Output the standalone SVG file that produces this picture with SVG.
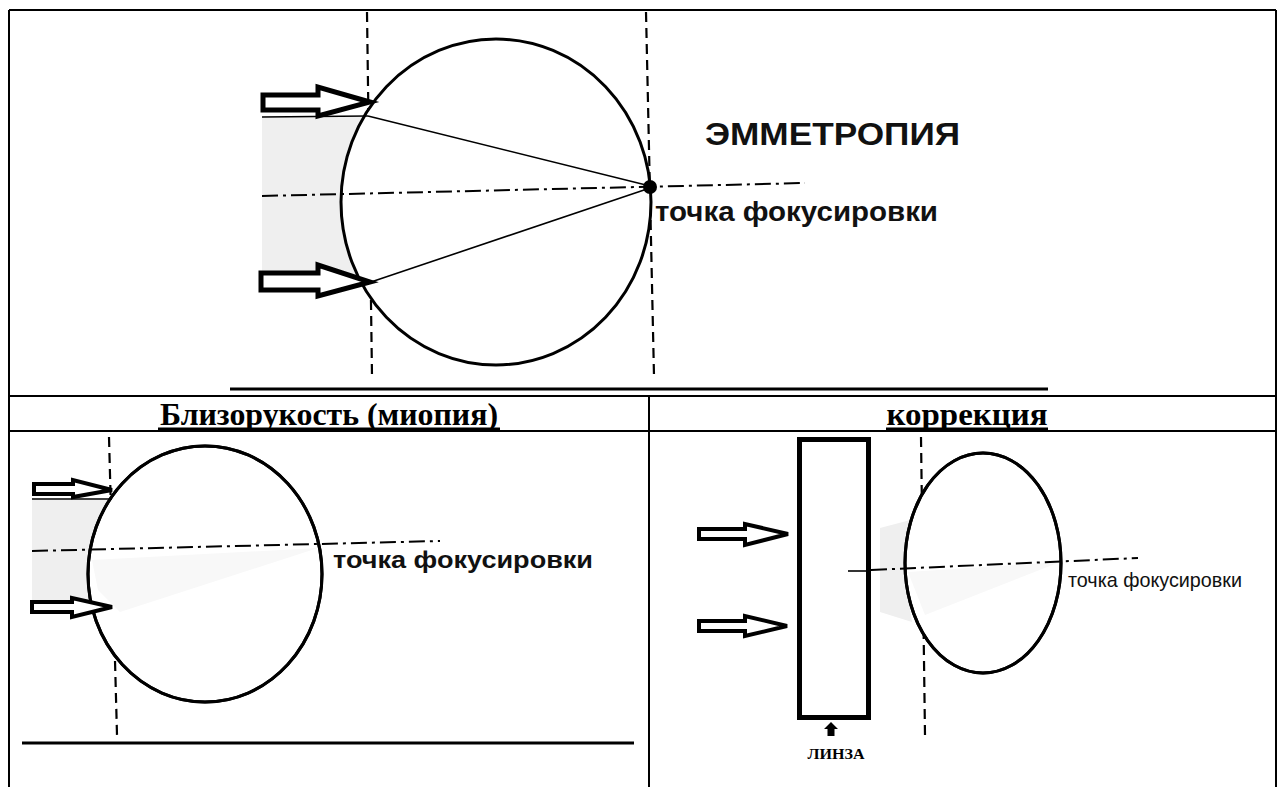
<svg xmlns="http://www.w3.org/2000/svg" width="1285" height="787" viewBox="0 0 1285 787">
  <style>
    .grid { stroke: #000; stroke-width: 2; fill: none; }
    .rule { stroke: #000; stroke-width: 3; }
    .eye { fill: #fff; stroke: #000; stroke-width: 3; }
    .vdash { stroke: #000; stroke-width: 2.2; stroke-dasharray: 10 6; fill: none; }
    .axis { stroke: #000; stroke-width: 2; stroke-dasharray: 16 5 3 5; fill: none; }
    .ray { stroke: #000; stroke-width: 1.6; fill: none; }
    .shade { fill: #efefef; }
    .shade2 { fill: #f8f8f8; }
    .arrow { fill: #fff; stroke: #000; stroke-width: 5; stroke-linejoin: miter; }
    .arrow-s { fill: #fff; stroke: #000; stroke-width: 4; stroke-linejoin: miter; }
    .sans { font-family: "Liberation Sans", Arial, sans-serif; font-weight: bold; fill: #111; }
    .narrow { font-family: "Liberation Sans Narrow", "Liberation Sans", Arial, sans-serif; fill: #111; }
    .serif { font-family: "Liberation Serif", "Times New Roman", serif; font-weight: bold; fill: #000; }
  </style>

  <rect width="1285" height="787" fill="#fff"/>

  <!-- table frame -->
  <g id="table">
    <path class="grid" d="M9 10 H1276 M9 10 V787 M1276 10 V787 M9 396 H1276 M9 431 H1276 M649 396 V787"/>
  </g>

  <!-- top cell: emmetropia -->
  <g id="emmetropia">
    <polygon class="shade" points="262,117 366,117 352,145 343,180 342,215 348,250 368,283 262,283"/>
    <line class="vdash" x1="367" y1="12" x2="372" y2="376"/>
    <line class="vdash" x1="646" y1="12" x2="654" y2="376"/>
    <ellipse class="eye" cx="496" cy="202" rx="155" ry="163"/>
    <line class="axis" x1="262" y1="196" x2="805" y2="183"/>
    <line class="ray" x1="262" y1="117" x2="368" y2="116"/>
    <line class="ray" x1="368" y1="116" x2="650" y2="186"/>
    <line class="ray" x1="368" y1="283" x2="650" y2="188"/>
    <polygon class="arrow" points="263,95 318,95 318,87 370,102 318,116 318,110 263,110"/>
    <polygon class="arrow" points="261,273 318,273 318,265 370,282 318,296 318,290 261,290"/>
    <circle cx="650" cy="187" r="7" fill="#000"/>
    <text class="sans" x="705" y="145" font-size="32" textLength="255" lengthAdjust="spacingAndGlyphs">ЭММЕТРОПИЯ</text>
    <text class="sans" x="655" y="221" font-size="28" textLength="283" lengthAdjust="spacingAndGlyphs">точка фокусировки</text>
    <line class="rule" x1="230" y1="389" x2="1048" y2="389"/>
  </g>

  <!-- column headings -->
  <g id="headings">
    <text class="serif" x="329" y="425" font-size="31" text-anchor="middle" textLength="338" lengthAdjust="spacingAndGlyphs">Близорукость (миопия)</text>
    <line class="rule" x1="158" y1="429" x2="500" y2="429"/>
    <text class="serif" x="967" y="425" font-size="31" text-anchor="middle" textLength="161" lengthAdjust="spacingAndGlyphs">коррекция</text>
    <line class="rule" x1="886" y1="429" x2="1048" y2="429"/>
  </g>

  <!-- bottom-left cell: myopia -->
  <g id="myopia">
    <polygon class="shade" points="32,500 110,500 97,525 89,552 92,580 112,607 32,607"/>
    <line class="vdash" x1="109" y1="437" x2="117" y2="735"/>
    <ellipse class="eye" cx="205" cy="574" rx="117" ry="128"/>
    <polygon class="shade2" points="92,560 318,548 120,612 98,590"/>
    <ellipse cx="205" cy="574" rx="117" ry="128" fill="none" stroke="#000" stroke-width="3"/>
    <line class="axis" x1="32" y1="551" x2="440" y2="541"/>
    <line class="ray" x1="32" y1="499" x2="112" y2="499"/>
    <polygon class="arrow-s" points="34,484 73,484 73,480 112,490 73,497 73,494 34,494"/>
    <polygon class="arrow-s" points="32,602 72,602 72,598 112,607 72,617 72,612 32,612"/>
    <text class="sans" x="333" y="568" font-size="24" textLength="260" lengthAdjust="spacingAndGlyphs">точка фокусировки</text>
    <line class="rule" x1="22" y1="743" x2="634" y2="743" stroke-width="2"/>
  </g>

  <!-- bottom-right cell: correction with a lens -->
  <g id="correction">
    <polygon class="shade" points="880,528 918,518 908,545 905,575 912,622 880,612"/>
    <line class="vdash" x1="921" y1="437" x2="925" y2="735"/>
    <ellipse class="eye" cx="983" cy="563" rx="78" ry="110"/>
    <polygon class="shade2" points="908,572 1060,562 925,615"/>
    <ellipse cx="983" cy="563" rx="78" ry="110" fill="none" stroke="#000" stroke-width="3"/>
    <line class="ray" x1="848" y1="571" x2="871" y2="571"/>
    <line class="axis" x1="871" y1="570" x2="1138" y2="558"/>
    <text class="narrow" x="1068" y="587" font-size="21" textLength="174" lengthAdjust="spacingAndGlyphs">точка фокусировки</text>
  </g>

  <g id="lens">
    <rect x="799.5" y="439.5" width="69" height="278" fill="none" stroke="#000" stroke-width="5"/>
    <polygon points="831,722 838,729 834.5,729 834.5,736 827.5,736 827.5,729 824,729" fill="#000"/>
    <text class="serif" x="836" y="759" font-size="15" text-anchor="middle" textLength="57" lengthAdjust="spacingAndGlyphs">ЛИНЗА</text>
  </g>

  <g id="lens-rays">
    <polygon class="arrow-s" points="699,529 745,529 745,524 788,534 745,545 745,539 699,539"/>
    <polygon class="arrow-s" points="699,621 745,621 745,616 787,626 745,636 745,631 699,631"/>
  </g>
</svg>
